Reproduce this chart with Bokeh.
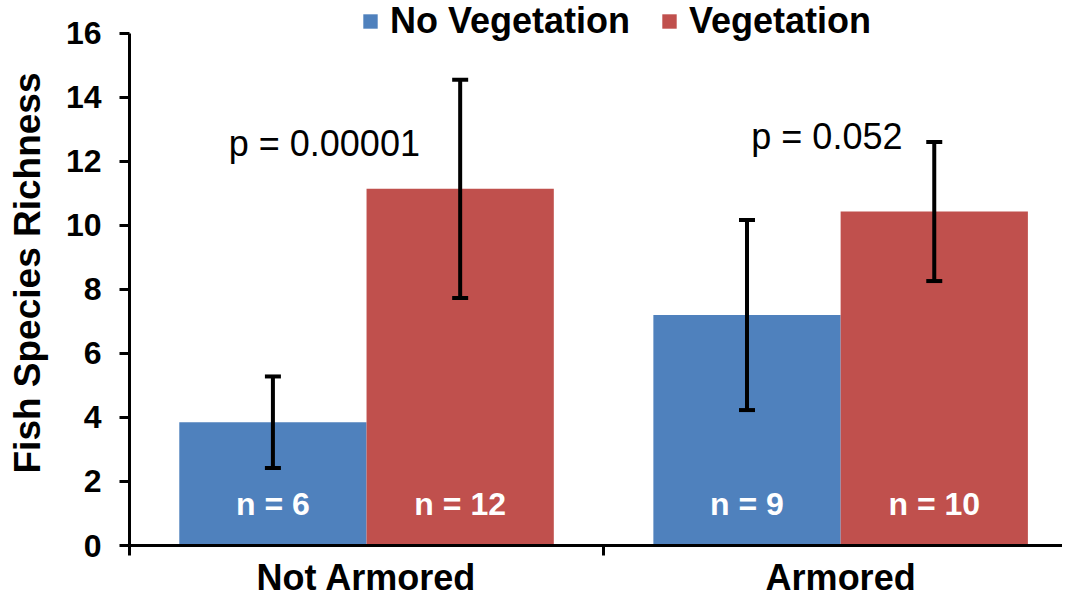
from bokeh.plotting import figure
from bokeh.models import (ColumnDataSource, Range1d, LinearAxis, FixedTicker, Whisker,
                          TeeHead, Legend, LegendItem, Label)
from bokeh.core.properties import value
from bokeh.embed import file_html
from bokeh.resources import INLINE

# ---- data ----
categories = ["Not Armored", "Armored"]
series = ["No Vegetation", "Vegetation"]
no_veg_mean = [3.85, 7.20]
no_veg_err = [1.43, 2.97]
veg_mean = [11.14, 10.43]
veg_err = [3.41, 2.17]
no_veg_n = ["n = 6", "n = 9"]
veg_n = ["n = 12", "n = 10"]
p_texts = ["p = 0.00001", "p = 0.052"]
y_ticks = [0, 2, 4, 6, 8, 10, 12, 14, 16]
y_title = "Fish Species Richness"

# ---- style ----
FONT = "Liberation Sans"
BLUE = "#4F81BD"
RED = "#C0504D"
BAR_W = 0.395

centers = [i + 0.5 for i in range(len(categories))]

def make_source(means, errs, labels, offset):
    xs = [c + offset for c in centers]
    return ColumnDataSource(dict(
        x=xs, top=means,
        upper=[m + e for m, e in zip(means, errs)],
        lower=[m - e for m, e in zip(means, errs)],
        label=labels,
        ly=[1.3] * len(xs),
    ))

src_no = make_source(no_veg_mean, no_veg_err, no_veg_n, -BAR_W / 2)
src_veg = make_source(veg_mean, veg_err, veg_n, BAR_W / 2)

# frame extends to the top of the canvas so the legend can sit above the 16 tick
p = figure(width=1062, height=600, output_backend="svg", toolbar_location=None,
           x_range=Range1d(0, 1.968), y_range=Range1d(0, 17.023),
           x_axis_type=None, y_axis_type=None,
           min_border_left=129, min_border_right=0, min_border_top=0,
           min_border_bottom=51)
p.outline_line_color = None
p.background_fill_color = "white"

r_no = p.vbar(x="x", top="top", width=BAR_W, bottom=0, source=src_no,
              fill_color=BLUE, line_color=None)
r_veg = p.vbar(x="x", top="top", width=BAR_W, bottom=0, source=src_veg,
               fill_color=RED, line_color=None)

for src in (src_no, src_veg):
    w = Whisker(source=src, base="x", upper="upper", lower="lower",
                line_color="black", line_width=4, level="annotation",
                upper_head=TeeHead(size=16, line_width=4, line_color="black"),
                lower_head=TeeHead(size=16, line_width=4, line_color="black"))
    p.add_layout(w)
    p.text(x="x", y="ly", text="label", source=src, text_color="white",
           text_font=value(FONT), text_font_style="bold", text_font_size="32px",
           text_align="center", text_baseline="middle")

# p-value annotations
p_pos = [(0.411, 12.55), (1.471, 12.78)]
for t, (px, py) in zip(p_texts, p_pos):
    p.add_layout(Label(x=px, y=py, text=t, text_font=FONT, text_font_size="36px",
                       text_align="center", text_baseline="middle", text_color="black"))

# y axis (line limited to 0..16)
yaxis = LinearAxis(ticker=FixedTicker(ticks=y_ticks, minor_ticks=[]),
                   bounds=(0, 16),
                   major_label_text_font=FONT, major_label_text_font_style="bold",
                   major_label_text_font_size="32px", major_label_standoff=18,
                   major_label_text_color="black",
                   axis_line_width=3, axis_line_color="black",
                   major_tick_line_width=3, major_tick_out=10, major_tick_in=0,
                   minor_tick_line_color=None)
p.add_layout(yaxis, "left")

# outer axis carrying only the y title
ytitle_axis = LinearAxis(ticker=FixedTicker(ticks=[], minor_ticks=[]),
                         bounds=(0, 17.42),
                         axis_label=y_title, axis_label_text_font=FONT,
                         axis_label_text_font_style="bold",
                         axis_label_text_font_size="37px",
                         axis_label_text_color="black", axis_label_standoff=15,
                         axis_line_color=None, major_tick_line_color=None,
                         minor_tick_line_color=None, major_label_text_font_size="0px")
p.add_layout(ytitle_axis, "left")

# x axis: labels at category centres, tick marks at category boundaries
xaxis = LinearAxis(ticker=FixedTicker(ticks=centers,
                                      minor_ticks=list(range(len(categories) + 1))),
                   major_label_overrides=dict(zip(centers, categories)),
                   major_label_text_font=FONT, major_label_text_font_style="bold",
                   major_label_text_font_size="36px", major_label_standoff=1,
                   major_label_text_color="black",
                   axis_line_width=3, axis_line_color="black",
                   major_tick_out=0, major_tick_in=0, major_tick_line_color=None,
                   minor_tick_out=10, minor_tick_in=0, minor_tick_line_width=3,
                   minor_tick_line_color="black")
p.add_layout(xaxis, "below")

legend = Legend(items=[LegendItem(label=series[0], renderers=[r_no]),
                       LegendItem(label=series[1], renderers=[r_veg])],
                location=(232, 503), orientation="horizontal",
                border_line_color=None, background_fill_alpha=0,
                padding=0, margin=0, spacing=30, glyph_width=18, glyph_height=18,
                label_standoff=11, label_text_font=FONT, label_text_color="black",
                label_text_font_style="bold", label_text_font_size="36px")
p.add_layout(legend, "center")

open("out.html", "w").write(file_html(p, INLINE))
